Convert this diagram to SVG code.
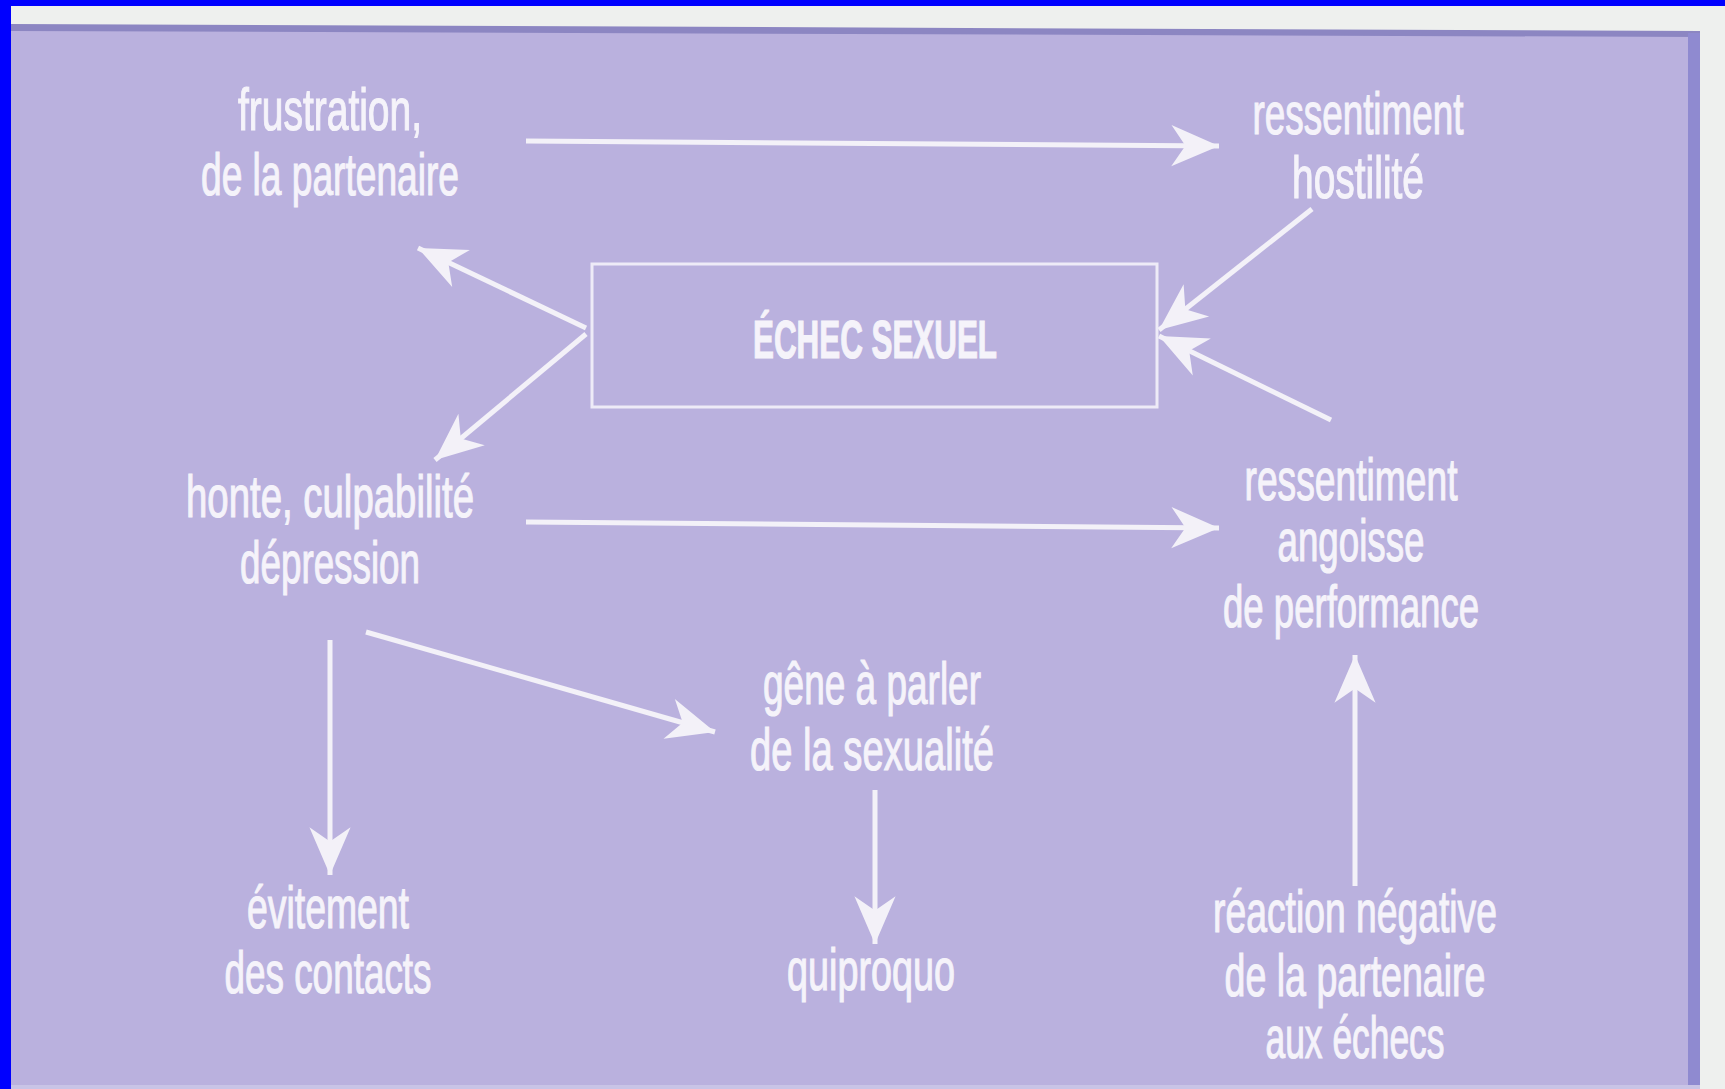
<svg xmlns="http://www.w3.org/2000/svg" width="1725" height="1089" viewBox="0 0 1725 1089">
<style>
.t{font-family:"Liberation Sans","DejaVu Sans",sans-serif;font-size:60px;fill:#f5f3fa;stroke:#f5f3fa;stroke-width:1.2;text-anchor:middle;}
.c{stroke:#f3f1f8;stroke-width:5;fill:none;marker-end:url(#ah);}
</style>
<defs>
<marker id="ah" markerUnits="userSpaceOnUse" markerWidth="52" markerHeight="46" viewBox="-46 -21 48 42" refX="0" refY="0" orient="auto">
<path d="M0,0 L-44,-19 L-31,0 L-44,19 Z" fill="#f3f1f8"/>
</marker>
</defs>
<rect x="0" y="0" width="1725" height="1089" fill="#0000ff"/>
<polygon points="11,6 1725,6 1725,1089 11,1089" fill="#eef0ee"/>
<polygon points="11,26 1700,33 1700,1089 11,1089" fill="#bab1de"/>
<polygon points="11,24 1700,31 1700,37 11,31" fill="#8c86c2"/>
<rect x="1688" y="33" width="12" height="1056" fill="#8f8ad0"/>
<rect x="11" y="1085" width="1689" height="4" fill="#c9c4e6"/>
<g id="connectors">
<line class="c" x1="526" y1="141" x2="1219" y2="146"/>
<line class="c" x1="1312" y1="209" x2="1159" y2="330"/>
<line class="c" x1="1331" y1="420" x2="1159" y2="336"/>
<line class="c" x1="586" y1="328" x2="418" y2="248"/>
<line class="c" x1="586" y1="334" x2="435" y2="460"/>
<line class="c" x1="526" y1="522" x2="1219" y2="528"/>
<line class="c" x1="366" y1="632" x2="715" y2="732"/>
<line class="c" x1="330" y1="640" x2="330" y2="875"/>
<line class="c" x1="875" y1="790" x2="875" y2="944"/>
<line class="c" x1="1355" y1="886" x2="1355" y2="655"/>
</g>
<g id="frustration">
<text class="t" x="330" y="130" textLength="184" lengthAdjust="spacingAndGlyphs">frustration,</text>
<text class="t" x="330" y="195" textLength="258" lengthAdjust="spacingAndGlyphs">de la partenaire</text>
</g>
<g id="ressentiment-hostilite">
<text class="t" x="1358" y="134" textLength="211" lengthAdjust="spacingAndGlyphs">ressentiment</text>
<text class="t" x="1358" y="198" textLength="132" lengthAdjust="spacingAndGlyphs">hostilité</text>
</g>
<g id="echec">
<rect x="592" y="264" width="565" height="143" fill="none" stroke="#eeebf7" stroke-width="3"/>
<text class="t" x="875" y="358" style="font-size:54px;font-weight:bold" textLength="244" lengthAdjust="spacingAndGlyphs">ÉCHEC SEXUEL</text>
</g>
<g id="honte">
<text class="t" x="330" y="517" textLength="288" lengthAdjust="spacingAndGlyphs">honte, culpabilité</text>
<text class="t" x="330" y="583" textLength="180" lengthAdjust="spacingAndGlyphs">dépression</text>
</g>
<g id="ressentiment-angoisse">
<text class="t" x="1351" y="500" textLength="213" lengthAdjust="spacingAndGlyphs">ressentiment</text>
<text class="t" x="1351" y="561" textLength="147" lengthAdjust="spacingAndGlyphs">angoisse</text>
<text class="t" x="1351" y="627" textLength="256" lengthAdjust="spacingAndGlyphs">de performance</text>
</g>
<g id="gene">
<text class="t" x="872" y="704" textLength="218" lengthAdjust="spacingAndGlyphs">gêne à parler</text>
<text class="t" x="872" y="770" textLength="244" lengthAdjust="spacingAndGlyphs">de la sexualité</text>
</g>
<g id="evitement">
<text class="t" x="328" y="928" textLength="162" lengthAdjust="spacingAndGlyphs">évitement</text>
<text class="t" x="328" y="993" textLength="207" lengthAdjust="spacingAndGlyphs">des contacts</text>
</g>
<g id="quiproquo">
<text class="t" x="871" y="990" textLength="168" lengthAdjust="spacingAndGlyphs">quiproquo</text>
</g>
<g id="reaction">
<text class="t" x="1355" y="932" textLength="284" lengthAdjust="spacingAndGlyphs">réaction négative</text>
<text class="t" x="1355" y="996" textLength="261" lengthAdjust="spacingAndGlyphs">de la partenaire</text>
<text class="t" x="1355" y="1058" textLength="179" lengthAdjust="spacingAndGlyphs">aux échecs</text>
</g>
</svg>
